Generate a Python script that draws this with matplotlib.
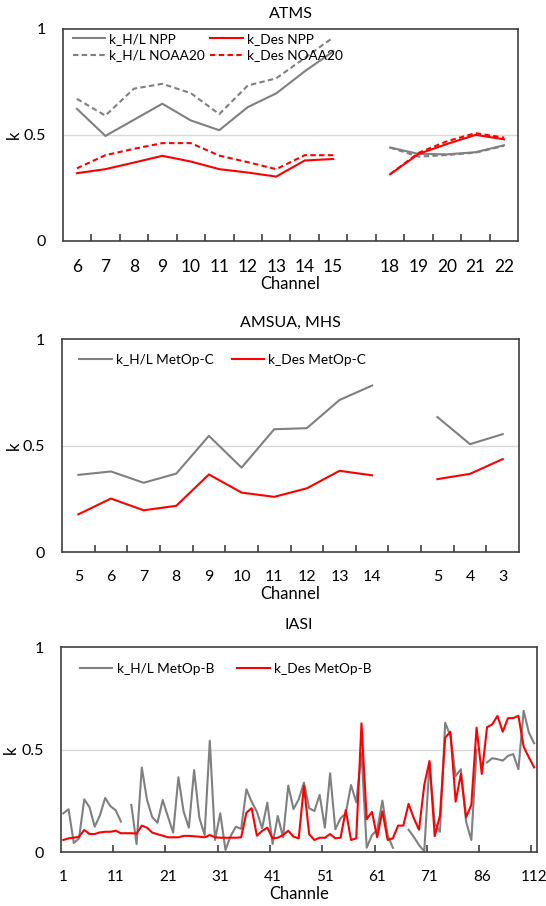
import numpy as np
import matplotlib.pyplot as plt

plt.rcParams['font.family'] = ['Lato', 'DejaVu Sans']

nan = np.nan

# ATMS
atms_ch = ['6', '7', '8', '9', '10', '11', '12', '13', '14', '15', '', '18', '19', '20', '21', '22']
hl_npp = [0.623, 0.495, 0.571, 0.647, 0.568, 0.522, 0.631, 0.696, 0.80, 0.894, nan, 0.44, 0.41, 0.408, 0.418, 0.451]
hl_n20 = [0.670, 0.591, 0.718, 0.741, 0.697, 0.598, 0.733, 0.767, 0.863, 0.96, nan, 0.44, 0.397, 0.405, 0.416, 0.448]
des_npp = [0.319, 0.338, 0.369, 0.401, 0.374, 0.338, 0.322, 0.303, 0.379, 0.386, nan, 0.314, 0.41, 0.457, 0.50, 0.479]
des_n20 = [0.342, 0.404, 0.434, 0.461, 0.461, 0.402, 0.371, 0.338, 0.404, 0.404, nan, 0.314, 0.415, 0.47, 0.508, 0.487]

# AMSUA, MHS
amsu_ch = ['5', '6', '7', '8', '9', '10', '11', '12', '13', '14', '', '5', '4', '3']
hl_c = [0.363, 0.379, 0.326, 0.369, 0.546, 0.397, 0.577, 0.582, 0.714, 0.782, nan, 0.634, 0.507, 0.554]
des_c = [0.178, 0.252, 0.197, 0.218, 0.365, 0.28, 0.26, 0.30, 0.382, 0.361, nan, 0.343, 0.368, 0.437]

# IASI (91 channels, labels every 10th)
iasi_labels = ['1', '11', '21', '31', '41', '51', '61', '71', '86', '112']
hl_b = [0.19, 0.21, 0.045, 0.068, 0.258, 0.22, 0.125, 0.18, 0.265, 0.225,
        0.205, 0.15, nan, 0.231, 0.04, 0.413, 0.255, 0.171, 0.144, 0.255,
        0.174, 0.096, 0.366, 0.198, 0.12, 0.401, 0.169, 0.084, 0.544, 0.06,
        0.19, 0.011, 0.08, 0.125, 0.114, 0.307, 0.247, 0.198, 0.117, 0.242,
        0.04, 0.177, 0.073, 0.325, 0.211, 0.258, 0.34, 0.215, 0.201, 0.28,
        0.12, 0.385, 0.112, 0.166, 0.19, 0.328, 0.244, 0.483, 0.022, 0.084,
        0.109, 0.252, 0.084, 0.022, nan, nan, 0.11, 0.075, 0.035, 0.005,
        0.435, 0.141, 0.1, 0.632, 0.567, 0.372, 0.405, 0.149, 0.06, 0.5,
        nan, 0.438, 0.459, 0.454, 0.447, 0.47, 0.479, 0.405, 0.69, 0.584,
        0.532]
des_b = [0.060, 0.068, 0.071, 0.076, 0.109, 0.089, 0.089, 0.097, 0.100, 0.100,
         0.105, 0.093, 0.093, 0.093, 0.091, 0.130, 0.120, 0.096, 0.088, 0.081,
         0.073, 0.073, 0.073, 0.080, 0.080, 0.078, 0.076, 0.073, 0.084, 0.073,
         0.071, 0.071, 0.071, 0.071, 0.073, 0.193, 0.215, 0.081, 0.104, 0.120,
         0.068, 0.071, 0.084, 0.105, 0.076, 0.068, 0.324, 0.088, 0.060, 0.071,
         0.071, 0.089, 0.068, 0.071, 0.206, 0.060, 0.068, 0.629, 0.161, 0.197,
         0.073, 0.200, 0.060, 0.068, 0.130, 0.130, 0.236, 0.166, 0.110, 0.328,
         0.445, 0.079, 0.178, 0.559, 0.588, 0.247, 0.382, 0.171, 0.231, 0.608,
         0.382, 0.610, 0.624, 0.665, 0.588, 0.654, 0.654, 0.666, 0.515, 0.463,
         0.414]

GRAY = '#808080'
RED = '#ff0000'
FRAME = '#404040'
LW = 1.5
DASH = (0, (2.6, 1.6))

fig = plt.figure(figsize=(5.46, 9.06), dpi=100)


def style(ax, n, step, labels, xfs, title, tpad, xlabel, klab):
    ax.set_xlim(-0.5, n - 0.5)
    ax.set_ylim(0, 1)
    ax.axhline(0.5, color='#d9d9d9', lw=1, zorder=0)
    for s in ax.spines.values():
        s.set_color(FRAME)
        s.set_linewidth(1.2)
    ax.set_xticks(np.arange(0, n, step))
    ax.set_xticklabels(labels, fontsize=xfs)
    ax.set_xticks(np.arange(step - 0.5, n - 0.5, step), minor=True)
    ax.tick_params(axis='x', which='major', length=0, pad=13)
    ax.tick_params(axis='x', which='minor', direction='in', length=5, width=1.2, color=FRAME)
    ax.set_yticks([0, 0.5, 1])
    ax.set_yticklabels(['0', '0.5', '1'], fontsize=11.5)
    ax.tick_params(axis='y', length=0, pad=12)
    ax.set_title(title, fontsize=11.5, pad=tpad)
    ax.set_xlabel(xlabel, fontsize=12, labelpad=1)
    ax.set_ylabel('k', fontsize=12)
    ax.yaxis.set_label_coords(klab, 0.5)


# ---- ATMS
ax1 = fig.add_axes([0.1148, 0.7343, 0.8344, 0.2337])
x = np.arange(len(atms_ch))
ax1.plot(x, hl_npp, color=GRAY, lw=LW, label='k_H/L NPP')
ax1.plot(x, hl_n20, color=GRAY, lw=LW, ls=DASH, label='k_H/L NOAA20')
ax1.plot(x, des_npp, color=RED, lw=LW, label='k_Des NPP')
ax1.plot(x, des_n20, color=RED, lw=LW, ls=DASH, label='k_Des NOAA20')
style(ax1, len(atms_ch), 1, atms_ch, 12.5, 'ATMS', 8, 'Channel', -0.089)
ax1.legend(loc='upper left', bbox_to_anchor=(0.022, 0.98), ncol=2, frameon=False,
           fontsize=9.8, handlelength=2.4, handletextpad=0.3, columnspacing=0.35,
           labelspacing=0.3, borderpad=0, borderaxespad=0)

# ---- AMSUA, MHS
ax2 = fig.add_axes([0.1136, 0.3904, 0.837, 0.2354])
x = np.arange(len(amsu_ch))
ax2.plot(x, hl_c, color=GRAY, lw=LW, label='k_H/L MetOp-C')
ax2.plot(x, des_c, color=RED, lw=LW, label='k_Des MetOp-C')
style(ax2, len(amsu_ch), 1, amsu_ch, 11.5, 'AMSUA, MHS', 9, 'Channel', -0.088)
ax2.legend(loc='upper left', bbox_to_anchor=(0.038, 0.93), ncol=2, frameon=False,
           fontsize=9.8, handlelength=2.4, handletextpad=0.3, columnspacing=1.3,
           borderpad=0, borderaxespad=0)

# ---- IASI
ax3 = fig.add_axes([0.1112, 0.0593, 0.8718, 0.2263])
x = np.arange(len(hl_b))
ax3.plot(x, hl_b, color=GRAY, lw=LW, label='k_H/L MetOp-B')
ax3.plot(x, des_b, color=RED, lw=LW, label='k_Des MetOp-B')
style(ax3, len(hl_b), 10, iasi_labels, 11, 'IASI', 13, 'Channle', -0.087)
ax3.legend(loc='upper left', bbox_to_anchor=(0.04, 0.925), ncol=2, frameon=False,
           fontsize=9.8, handlelength=2.4, handletextpad=0.3, columnspacing=1.7,
           borderpad=0, borderaxespad=0)

fig.savefig('out.png', dpi=100)
